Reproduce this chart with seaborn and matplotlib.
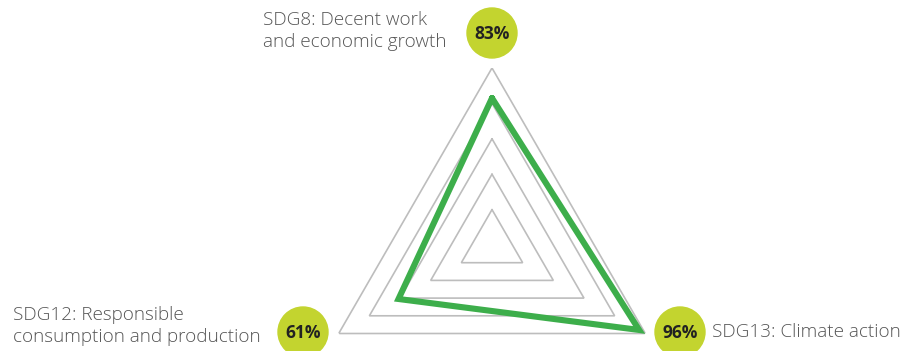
import numpy as np
import pandas as pd
import matplotlib
matplotlib.use("Agg")
import matplotlib.pyplot as plt
from matplotlib.patches import Circle
import seaborn as sns

# Goals in clockwise order from the top, with their scores (%)
goals = ["SDG8: Decent work\nand economic growth",
         "SDG13: Climate action",
         "SDG12: Responsible\nconsumption and production"]
scores = [83, 96, 61]
grid_levels = [20, 40, 60, 80, 100]

sns.set_theme(style="white")
plt.rcParams["font.family"] = ["Open Sans", "DejaVu Sans"]

W, H = 900, 351
fig = plt.figure(figsize=(W / 100, H / 100), dpi=100)
fig.patch.set_facecolor("white")

# Radar axes: centre at (492, 245) px, radius 177 px
cx, cy, R = 492, 245, 177
ax = fig.add_axes([(cx - R) / W, (H - cy - R) / H, 2 * R / W, 2 * R / H],
                  projection="polar")
ax.set_theta_zero_location("N")
ax.set_theta_direction(-1)
ax.set_ylim(0, 100)
ax.grid(False)
ax.spines["polar"].set_visible(False)
ax.set_xticks([])
ax.set_yticks([])
ax.patch.set_alpha(0)

n = len(goals)
theta = np.arange(n) * 2 * np.pi / n
theta_closed = np.append(theta, theta[0])

# Triangular grid rings
for lvl in grid_levels:
    ax.plot(theta_closed, [lvl] * (n + 1), color="#bdbdbd", lw=1.2,
            solid_joinstyle="miter", zorder=1)

# Score polygon
df = pd.DataFrame({"theta": theta_closed,
                   "score": scores + [scores[0]]})
sns.lineplot(data=df, x="theta", y="score", ax=ax, sort=False,
             estimator=None, color="#3dae4b", lw=4.4, zorder=3)
ax.lines[-1].set_solid_joinstyle("miter")
ax.set_xlabel("")
ax.set_ylabel("")

# Overlay in pixel coordinates for the labels and score badges
ov = fig.add_axes([0, 0, 1, 1])
ov.set_xlim(0, W)
ov.set_ylim(H, 0)
ov.axis("off")
ov.patch.set_alpha(0)

badge_color = "#c3d42f"
text_color = "#555555"
badges = [(492, 33), (680, 332), (303, 332)]
labels = [
    dict(x=263, y=31),
    dict(x=712, y=332),
    dict(x=13, y=326),
]
for goal, score, (bx, by), lab in zip(goals, scores, badges, labels):
    ov.add_patch(Circle((bx, by), 25, color=badge_color, zorder=2))
    ov.text(bx, by + 1, f"{score}%", ha="center", va="center",
            fontsize=12.5, fontweight="bold", fontstretch="normal",
            color="#222222", zorder=3)
    ov.text(lab["x"], lab["y"], goal, ha="left", va="center",
            fontsize=13.6, fontweight="light", fontstretch="normal",
            color=text_color, linespacing=1.22)

fig.savefig("out.png", dpi=100)
